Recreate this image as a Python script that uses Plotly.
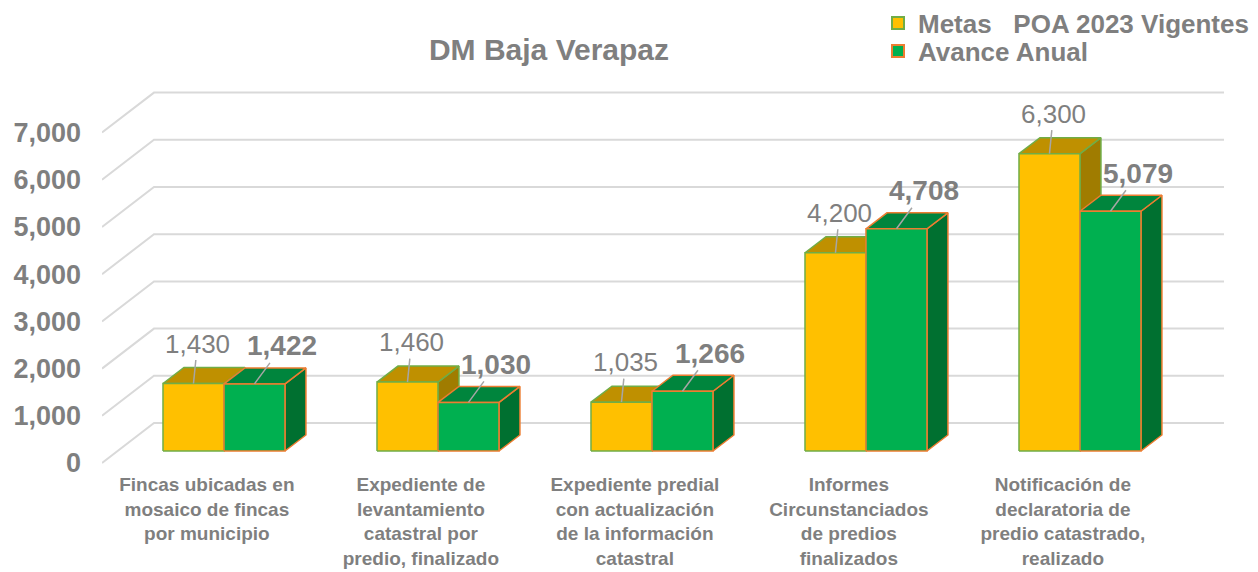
import plotly.graph_objects as go

# ---------------- data ----------------
categories = [
    "Fincas ubicadas en<br>mosaico de fincas<br>por municipio",
    "Expediente de<br>levantamiento<br>catastral por<br>predio, finalizado",
    "Expediente predial<br>con actualización<br>de la información<br>catastral",
    "Informes<br>Circunstanciados<br>de predios<br>finalizados",
    "Notificación de<br>declaratoria de<br>predio catastrado,<br>realizado",
]
metas = [1430, 1460, 1035, 4200, 6300]
avance = [1422, 1030, 1266, 4708, 5079]
y_ticks = [0, 1000, 2000, 3000, 4000, 5000, 6000, 7000]
series_names = ["Metas\u00a0\u00a0\u00a0POA 2023 Vigentes", "Avance Anual"]
title_text = "DM Baja Verapaz"

# ---------------- style / geometry ----------------
GRAY = "#7F7F7F"
FONT = "Liberation Sans, Arial, sans-serif"
BAR_W = 0.285          # width of one bar in category units
DX = 0.098             # depth offset (x, category units)
DV = 339               # depth offset (y, value units)
WALL_DX = 0.243        # side wall depth in x
WALL_FRONT = -254      # value shift of wall front edge vs bar front plane
WALL_BACK = 593        # value shift of back wall vs bar front plane
X_RANGE = [-0.570, 4.673]
Y_RANGE = [-402.5, 7860]

styles = [
    dict(front="#FFC000", top="#BF9000", side="#A07C00", line="#70AD47",
         off=-BAR_W, lab_dx=4, lab_dy=-40, size=26, bold=False, legend="legend", ly=23),
    dict(front="#00B050", top="#00853D", side="#007030", line="#ED7D31",
         off=0.0, lab_dx=28, lab_dy=-38, size=28, bold=True, legend="legend2", ly=51),
]

fig = go.Figure()

# gridlines (back wall + side wall) built from tick values
gx, gy = [], []
for v in y_ticks:
    gx += [X_RANGE[0], X_RANGE[0] + WALL_DX, X_RANGE[1], None]
    gy += [v + WALL_FRONT, v + WALL_BACK, v + WALL_BACK, None]
fig.add_trace(go.Scatter(x=gx, y=gy, mode="lines", line=dict(color="#D9D9D9", width=2),
                         hoverinfo="skip", showlegend=False))

# 3D-looking bars from data
for values, st in zip([metas, avance], styles):
    faces = {"side": ([], []), "top": ([], []), "front": ([], [])}
    for i, v in enumerate(values):
        x0 = i + st["off"]
        x1 = x0 + BAR_W
        sx, sy = faces["side"]
        sx += [x1, x1 + DX, x1 + DX, x1, x1, None]
        sy += [0, DV, v + DV, v, 0, None]
        tx, ty = faces["top"]
        tx += [x0, x1, x1 + DX, x0 + DX, x0, None]
        ty += [v, v, v + DV, v + DV, v, None]
        fx, fy = faces["front"]
        fx += [x0, x1, x1, x0, x0, None]
        fy += [0, 0, v, v, 0, None]
    for face in ["side", "top", "front"]:
        fxs, fys = faces[face]
        fig.add_trace(go.Scatter(x=fxs, y=fys, mode="lines", fill="toself",
                                 fillcolor=st[face], line=dict(color=st["line"], width=1.5),
                                 hoverinfo="skip", showlegend=False))

# legend entries (one legend per series so the rows can sit close together)
for name, st in zip(series_names, styles):
    fig.add_trace(go.Bar(x=[None], y=[None], name=f"<b>{name}</b>", legend=st["legend"],
                         marker=dict(color=st["front"], line=dict(color=st["line"], width=2))))

# value labels with leader lines
for values, st in zip([metas, avance], styles):
    for i, v in enumerate(values):
        txt = f"{v:,}"
        if st["bold"]:
            txt = f"<b>{txt}</b>"
        fig.add_annotation(x=i + st["off"] + BAR_W / 2, y=v, text=txt,
                           showarrow=True, arrowhead=0, arrowwidth=1.5, arrowcolor="#A6A6A6",
                           ax=st["lab_dx"], ay=st["lab_dy"], standoff=0,
                           font=dict(size=st["size"], color=GRAY, family=FONT))

legend_common = dict(xref="container", yref="container", xanchor="left", yanchor="middle",
                     font=dict(size=26, color=GRAY, family=FONT), bgcolor="rgba(0,0,0,0)")

fig.update_layout(
    width=1258, height=572,
    margin=dict(l=102, r=34, t=80, b=102, autoexpand=False),
    plot_bgcolor="white", paper_bgcolor="white",
    font=dict(family=FONT, color=GRAY),
    title=dict(text=f"<b>{title_text}</b>", x=549 / 1258, xanchor="center",
               y=1 - 49 / 572, yanchor="middle", font=dict(size=30, color=GRAY, family=FONT)),
    showlegend=True,
    legend=dict(x=878 / 1258, y=1 - styles[0]["ly"] / 572, **legend_common),
    legend2=dict(x=878 / 1258, y=1 - styles[1]["ly"] / 572, **legend_common),
    xaxis=dict(type="linear", range=X_RANGE, showgrid=False, zeroline=False, showline=False,
               tickvals=[i - 0.08 for i in range(len(categories))],
               ticktext=[f"<b>{c}</b>" for c in categories], ticks="", tickangle=0,
               automargin=False, ticklabelstandoff=1,
               tickfont=dict(size=19, color=GRAY, family=FONT), fixedrange=True),
    yaxis=dict(range=Y_RANGE, showgrid=False, zeroline=False, showline=False,
               tickvals=[v + WALL_FRONT for v in y_ticks],
               ticktext=[f"<b>{v:,}</b>" for v in y_ticks], ticks="",
               ticklabelstandoff=20, automargin=False,
               tickfont=dict(size=27, color=GRAY, family=FONT), fixedrange=True),
)

fig.write_html("out.html", post_script="document.body.style.margin='0';",
               config={"displayModeBar": False})
